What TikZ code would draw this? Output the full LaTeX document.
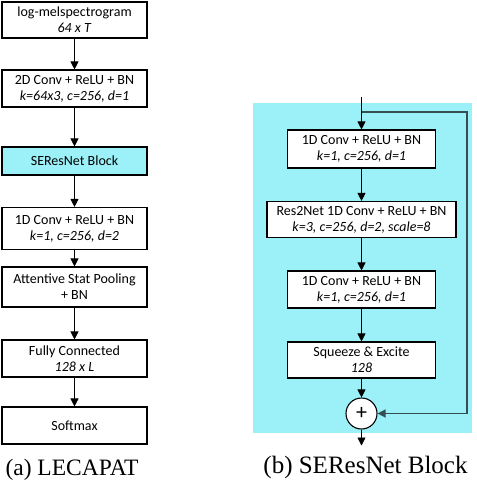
\documentclass[tikz,border=0pt]{standalone}
\usepackage{fontspec}
\setmainfont{Carlito}
\newfontfamily\capfont{Liberation Serif}
\usetikzlibrary{arrows.meta,positioning}
\definecolor{blockcyan}{RGB}{156,240,248}
\definecolor{skipgray}{RGB}{52,78,82}
\begin{document}
\begin{tikzpicture}[x=1pt,y=-1pt,
  box/.style={draw=black,line width=1.1pt,fill=white,inner sep=0pt,align=center,
    font=\fontsize{14}{16}\selectfont},
  arr/.style={line width=0.8pt,-{Triangle[width=8pt,length=8pt]}},
  skip/.style={draw=skipgray,line width=1.4pt},
  captext/.style={font=\capfont\fontsize{23.5}{26}\selectfont,anchor=base,inner sep=0pt}]
\useasboundingbox (0,0) rectangle (476,484);
% left column
\node[box,minimum width=145pt,minimum height=36pt] (a1) at (74.5,20) {log-melspectrogram\\\textit{64 x T}};
\node[box,minimum width=145pt,minimum height=37pt] (a2) at (74.5,88.5) {2D Conv + ReLU + BN\\\textit{k=64x3, c=256, d=1}};
\node[box,fill=blockcyan,minimum width=145pt,minimum height=28pt] (a3) at (74.5,161) {SEResNet Block};
\node[box,minimum width=145pt,minimum height=42pt] (a4) at (74.5,228.5) {1D Conv + ReLU + BN\\\textit{k=1, c=256, d=2}};
\node[box,minimum width=145pt,minimum height=40pt] (a5) at (74.5,287) {Attentive Stat Pooling\\+ BN};
\node[box,minimum width=145pt,minimum height=37pt] (a6) at (74.5,358.5) {Fully Connected\\\textit{128 x L}};
\node[box,minimum width=145pt,minimum height=37pt] (a7) at (74.5,425.5) {Softmax};
\draw[arr] (a1) -- (a2);
\draw[arr] (a2) -- (a3);
\draw[arr] (a3) -- (a4);
\draw[arr] (a4) -- (a5);
\draw[arr] (a5) -- (a6);
\draw[arr] (a6) -- (a7);
\node[captext] (capa) at (72,475.5) {(a) LECAPAT};
% right block
\fill[blockcyan] (252.5,103.5) rectangle (472,432.5);
\coordinate (in) at (361.5,97);
\coordinate (split) at (361.5,112);
\coordinate (sr1) at (467,112);
\coordinate (sr2) at (467,413.5);
\coordinate (out) at (361.5,445.5);
\node[box,minimum width=148pt,minimum height=38pt] (b1) at (361.5,149) {1D Conv + ReLU + BN\\\textit{k=1, c=256, d=1}};
\node[box,minimum width=189pt,minimum height=36pt] (b2) at (361.5,219.5) {Res2Net 1D Conv + ReLU + BN\\\textit{k=3, c=256, d=2, scale=8}};
\node[box,minimum width=148pt,minimum height=37pt] (b3) at (361.5,289.5) {1D Conv + ReLU + BN\\\textit{k=1, c=256, d=1}};
\node[box,minimum width=148pt,minimum height=36pt] (b4) at (361.5,360) {Squeeze \& Excite\\\textit{128}};
\node[circle,draw=black,line width=1.1pt,fill=white,minimum size=31pt,inner sep=0pt,
  font=\fontsize{22}{22}\selectfont] (plus) at (361.5,413.5) {+};
\draw[line width=0.8pt] (in) -- (split);
\draw[arr] (split) -- (b1);
\draw[skip] (split) -- (sr1) -- (sr2);
\draw[skip,-{Triangle[width=8pt,length=8pt]},fill=black] (sr2) -- (plus);
\draw[arr] (b1) -- (b2);
\draw[arr] (b2) -- (b3);
\draw[arr] (b3) -- (b4);
\draw[arr] (b4) -- (plus);
\draw[arr] (plus) -- (out);
\node[captext,font=\capfont\fontsize{25}{27}\selectfont] (capb) at (365.5,473.5) {(b) SEResNet Block};
\end{tikzpicture}
\end{document}
